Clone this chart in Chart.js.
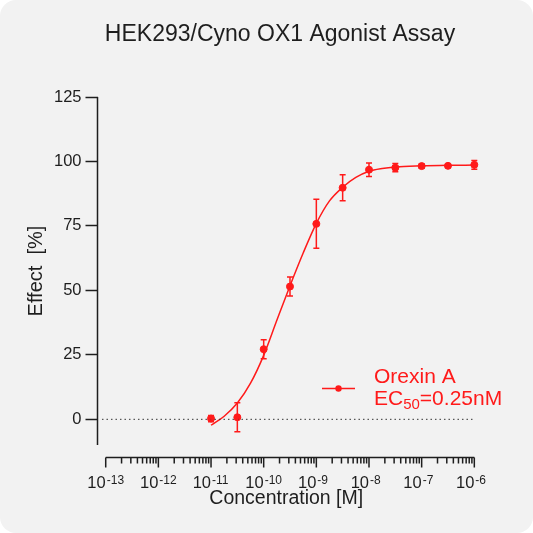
<!DOCTYPE html>
<html>
<head>
<meta charset="utf-8">
<script src="https://cdn.jsdelivr.net/npm/chart.js@4.4.0/dist/chart.umd.min.js"></script>
<style>
  html, body { margin: 0; padding: 0; background: #fff; }
  #wrap { width: 533px; height: 533px; background: #f2f2f2; border-radius: 16px; overflow: hidden; }
</style>
</head>
<body>
<div id="wrap"><canvas id="chart" width="533" height="533"></canvas></div>
<script>
// =====================
// data
// =====================
const chartTitle = 'HEK293/Cyno OX1 Agonist Assay';
const xTitle = 'Concentration [M]';
const yTitle = 'Effect  [%]';
const seriesName = 'Orexin A';
const ec50Value = '=0.25nM';

// measured points (mean ± SD)
const conc   = [1e-11, 3.16e-11, 1e-10, 3.16e-10, 1e-9, 3.16e-9, 1e-8, 3.16e-8, 1e-7, 3.16e-7, 1e-6];
const effect = [0.3, 0.8, 27.2, 51.5, 75.8, 89.8, 96.8, 97.6, 98.2, 98.3, 98.7];
const sd     = [1.2, 5.6, 3.7, 3.7, 9.5, 5.0, 2.6, 1.6, 0.8, 0.6, 1.7];

// fitted curve (log10 of concentration)
const curveExp    = [-11, -10.75, -10.5, -10.25, -10, -9.75, -9.5, -9.25, -9, -8.75, -8.5, -8.25, -8, -7.75, -7.5, -7, -6.5, -6];
const curveEffect = [-2.3, 1.2, 6.3, 14.0, 24.8, 38.4, 51.8, 64.5, 76.0, 84.7, 90.0, 93.8, 96.2, 97.3, 97.9, 98.3, 98.5, 98.6];

// dotted zero line
const zeroLineX = [8.5e-14, 9.3e-7];

const yTicks = [0, 25, 50, 75, 100, 125];
const yAxisRange = [-10, 125];
const xTickExp = [-13, -12, -11, -10, -9, -8, -7, -6];
const xMinorSteps = [2, 3, 4, 5, 6, 7, 8, 9];

const RED = '#ff1a1a';
const INK = '#1e1e1e';
const FONT = "'Liberation Sans', Arial, sans-serif";

// =====================
// 畫軸、誤差線、圖例
// =====================
const decorPlugin = {
  id: 'decor',
  afterDatasetsDraw(chart) {
    const ctx = chart.ctx;
    const xs = chart.scales.x, ys = chart.scales.y;
    ctx.save();

    // error bars
    ctx.strokeStyle = RED;
    ctx.lineWidth = 1.5;
    conc.forEach((c, i) => {
      const px = xs.getPixelForValue(c);
      const hi = ys.getPixelForValue(effect[i] + sd[i]);
      const lo = ys.getPixelForValue(effect[i] - sd[i]);
      ctx.beginPath();
      ctx.moveTo(px, hi); ctx.lineTo(px, lo);
      ctx.moveTo(px - 3, hi); ctx.lineTo(px + 3, hi);
      ctx.moveTo(px - 3, lo); ctx.lineTo(px + 3, lo);
      ctx.stroke();
    });

    // y axis line
    ctx.strokeStyle = INK;
    ctx.lineWidth = 1.5;
    const ax = chart.chartArea.left;
    const yTop = ys.getPixelForValue(yAxisRange[1]);
    const yBot = ys.getPixelForValue(yAxisRange[0]);
    ctx.beginPath();
    ctx.moveTo(ax, yBot);
    ctx.lineTo(ax, yTop);
    ctx.stroke();

    // y title, centred on the drawn axis
    ctx.save();
    ctx.fillStyle = INK;
    ctx.font = '20px ' + FONT;
    ctx.textAlign = 'center';
    ctx.textBaseline = 'middle';
    ctx.translate(36, (yTop + yBot) / 2);
    ctx.rotate(-Math.PI / 2);
    ctx.fillText(yTitle, 0, 0);
    ctx.restore();

    // x axis line + ticks
    const ay = chart.chartArea.bottom - 0.5;
    const x0 = xs.getPixelForValue(Math.pow(10, xTickExp[0]));
    const x1 = xs.getPixelForValue(Math.pow(10, xTickExp[xTickExp.length - 1]));
    ctx.beginPath();
    ctx.moveTo(x0, ay); ctx.lineTo(x1, ay);
    xTickExp.forEach((e, k) => {
      const p = xs.getPixelForValue(Math.pow(10, e));
      ctx.moveTo(p, ay); ctx.lineTo(p, ay + 10);
      if (k < xTickExp.length - 1) {
        xMinorSteps.forEach(m => {
          const q = xs.getPixelForValue(m * Math.pow(10, e));
          ctx.moveTo(q, ay); ctx.lineTo(q, ay + 6);
        });
      }
    });
    ctx.stroke();

    // x tick labels 10^e
    ctx.fillStyle = INK;
    ctx.textBaseline = 'alphabetic';
    ctx.textAlign = 'left';
    xTickExp.forEach(e => {
      const p = xs.getPixelForValue(Math.pow(10, e));
      const base = '10', sup = String(e);
      ctx.font = '16.5px ' + FONT;
      const wb = ctx.measureText(base).width;
      const start = p - wb;
      ctx.fillText(base, start, 487.5);
      ctx.font = '12px ' + FONT;
      ctx.fillText(sup, start + wb + 1, 484);
    });

    // title
    ctx.font = '23px ' + FONT;
    ctx.textAlign = 'center';
    ctx.fillText(chartTitle, 280, 41);

    // legend
    ctx.strokeStyle = RED;
    ctx.fillStyle = RED;
    ctx.lineWidth = 1.5;
    ctx.beginPath();
    ctx.moveTo(322, 388.5); ctx.lineTo(355, 388.5);
    ctx.stroke();
    ctx.beginPath();
    ctx.arc(338.5, 388.5, 3.2, 0, Math.PI * 2);
    ctx.fill();
    ctx.textAlign = 'left';
    ctx.font = '21px ' + FONT;
    ctx.fillText(seriesName, 374, 382.5);
    ctx.fillText('EC', 374, 405);
    const wEC = ctx.measureText('EC').width;
    ctx.font = '15px ' + FONT;
    ctx.fillText('50', 374 + wEC, 408.5);
    const w50 = ctx.measureText('50').width;
    ctx.font = '21px ' + FONT;
    ctx.fillText(ec50Value, 374 + wEC + w50, 405);

    ctx.restore();
  }
};

new Chart(document.getElementById('chart'), {
  type: 'scatter',
  data: {
    datasets: [
      {
        type: 'line',
        label: 'zero',
        data: zeroLineX.map(v => ({ x: v, y: 0 })),
        borderColor: '#333',
        borderWidth: 1,
        borderDash: [1.5, 3],
        pointRadius: 0,
        clip: false,
      },
      {
        type: 'line',
        label: 'fit',
        data: curveExp.map((e, i) => ({ x: Math.pow(10, e), y: curveEffect[i] })),
        borderColor: RED,
        borderWidth: 1.5,
        pointRadius: 0,
        cubicInterpolationMode: 'monotone',
        fill: false,
        clip: false,
      },
      {
        label: seriesName,
        data: conc.map((c, i) => ({ x: c, y: effect[i] })),
        backgroundColor: RED,
        borderColor: RED,
        pointRadius: 3.5,
        clip: false,
      }
    ]
  },
  options: {
    responsive: false,
    animation: false,
    layout: { padding: { top: 97, right: 58, bottom: 0, left: 0 } },
    plugins: {
      legend: { display: false },
      tooltip: { enabled: false },
    },
    scales: {
      x: {
        type: 'logarithmic',
        min: Math.pow(10, -13.156),
        max: Math.pow(10, -5.987),
        grid: { display: false },
        border: { display: false },
        ticks: { display: false },
        title: {
          display: true,
          text: xTitle,
          color: INK,
          font: { family: FONT, size: 19.5 },
          padding: { top: 0, bottom: 23 },
        },
        afterFit: s => { s.height = 75; },
      },
      y: {
        min: -15,
        max: 125,
        afterBuildTicks: s => { s.ticks = yTicks.map(v => ({ value: v })); },
        grid: {
          drawOnChartArea: false,
          drawTicks: true,
          tickLength: 12,
          tickColor: INK,
          tickWidth: 1.5,
        },
        border: { display: false },
        ticks: {
          color: INK,
          padding: 4,
          font: { family: FONT, size: 16.5 },
        },
        title: { display: false },
        afterFit: s => { s.width = 97.5; },
      }
    }
  },
  plugins: [decorPlugin]
});
</script>
</body>
</html>
